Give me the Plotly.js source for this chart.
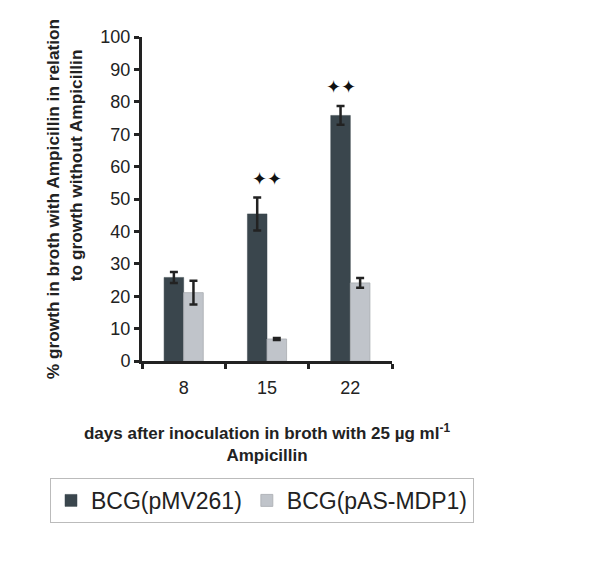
<!DOCTYPE html>
<html>
<head>
<meta charset="utf-8">
<script src="https://cdn.plot.ly/plotly-3.0.1.min.js"></script>
<style>html,body{margin:0;padding:0;background:#fff;}#chart{width:600px;height:574px;}</style>
</head>
<body>
<div id="chart"></div>
<script>
const categories = ['8', '15', '22'];
const seriesNames = ['BCG(pMV261)', 'BCG(pAS-MDP1)'];
const pMV261 = [25.8, 45.4, 75.8];
const pMV261Err = [1.7, 5.1, 2.9];
const pASMDP1 = [21.1, 6.8, 24.1];
const pASMDP1Err = [3.7, 0.3, 1.5];
const starLabels = ['', '✦✦', '✦✦'];
const starY = [null, 56.2, 84.8];
const starShift = [0, 0, -9];

const F = 'Liberation Sans, Arial, sans-serif';
const errStyle = {type: 'data', visible: true, color: '#222', thickness: 2.5, width: 4};

const traces = [
  {type: 'bar', name: seriesNames[0], x: categories, y: pMV261,
   error_y: Object.assign({array: pMV261Err}, errStyle),
   marker: {color: '#3a464d', line: {color: '#3a464d', width: 0.5}}},
  {type: 'bar', name: seriesNames[1], x: categories, y: pASMDP1,
   error_y: Object.assign({array: pASMDP1Err}, errStyle),
   marker: {color: '#c0c4ca', line: {color: '#a8acb0', width: 0.8}}}
];

const annotations = [];
categories.forEach((c, i) => {
  if (starLabels[i]) {
    annotations.push({x: i, y: starY[i], xref: 'x', yref: 'y', text: starLabels[i],
      showarrow: false, xshift: starShift[i], font: {family: 'DejaVu Sans', size: 18, color: '#111'}});
  }
});

const pad = '\u00a0'.repeat(14);

const layout = {
  width: 600, height: 574,
  margin: {l: 142, r: 208, t: 37, b: 213},
  paper_bgcolor: '#fff', plot_bgcolor: '#fff',
  font: {family: F, color: '#222'},
  barmode: 'group', bargap: 0.53, bargroupgap: 0,
  showlegend: true,
  legend: {orientation: 'h', x: 1.328, xanchor: 'right', y: -0.361, yanchor: 'top',
    font: {family: F, size: 23, color: '#222'}, bordercolor: '#bbb', borderwidth: 1,
    traceorder: 'normal'},
  xaxis: {
    type: 'category', range: [-0.5, 2.5], showline: true, linecolor: '#222', linewidth: 3,
    ticks: 'outside', tickson: 'boundaries', ticklen: 5, tickwidth: 3, tickcolor: '#222',
    ticklabelstandoff: 8,
    tickfont: {family: F, size: 18, color: '#222'}, showgrid: false, zeroline: false,
    title: {text: '<b>days after inoculation in broth with 25 µg ml<sup>-1</sup><br>Ampicillin</b>',
      font: {family: F, size: 17, color: '#222'}, standoff: 31}
  },
  yaxis: {
    range: [0, 100], dtick: 10, showline: true, linecolor: '#222', linewidth: 3,
    ticks: 'outside', ticklen: 5, tickwidth: 3, tickcolor: '#222',
    tickfont: {family: F, size: 18, color: '#222'}, showgrid: false, zeroline: false,
    title: {text: '<b>% growth in broth with Ampicillin in relation<br>' + pad + 'to growth without Ampicillin</b>',
      font: {family: F, size: 17.3, color: '#222'}, standoff: 14}
  },
  annotations: annotations
};

Plotly.newPlot('chart', traces, layout, {displayModeBar: false, staticPlot: true});
</script>
</body>
</html>
